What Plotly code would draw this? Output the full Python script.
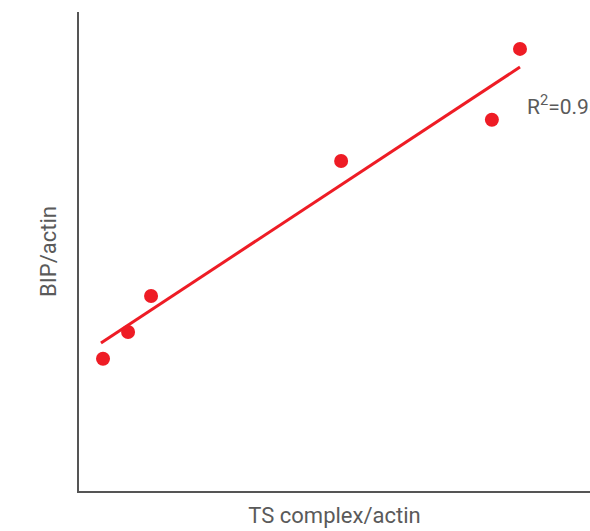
import plotly.graph_objects as go

ts_complex = [4.7, 9.6, 14.1, 51.3, 80.8, 86.3]
bip = [27.6, 33.2, 40.7, 68.9, 77.5, 92.3]
fit_x = [4.3, 86.3]
fit_y = [30.9, 88.5]
r2_label = "R<sup>2</sup>=0.98"

fig = go.Figure()
fig.add_trace(go.Scatter(x=fit_x, y=fit_y, mode="lines",
                         line=dict(color="#ee1c25", width=3), showlegend=False))
fig.add_trace(go.Scatter(x=ts_complex, y=bip, mode="markers",
                         marker=dict(color="#ee1c25", size=14), showlegend=False))
fig.add_annotation(x=87.3, y=80.5, text=r2_label, showarrow=False, xanchor="left",
                   yanchor="middle",
                   font=dict(size=21, color="#5a5a5a", family="Roboto"))
fig.update_layout(
    width=590, height=531, margin=dict(l=79, r=0, t=12, b=40, autoexpand=False),
    plot_bgcolor="white", paper_bgcolor="white",
    font=dict(family="Roboto", color="#5a5a5a", size=18.5),
    xaxis=dict(range=[0, 100], showline=True, linecolor="#555555", linewidth=2,
               showgrid=False, zeroline=False, showticklabels=False, ticks="",
               automargin=False,
               title=dict(text="TS complex/actin", standoff=16)),
    yaxis=dict(range=[0, 100], showline=True, linecolor="#555555", linewidth=2,
               showgrid=False, zeroline=False, showticklabels=False, ticks="",
               automargin=False,
               title=dict(text="BIP/actin", standoff=14)),
)
fig.write_html("out.html", config={"displayModeBar": False},
               post_script="document.body.style.margin='0';document.body.style.overflow='hidden';")
